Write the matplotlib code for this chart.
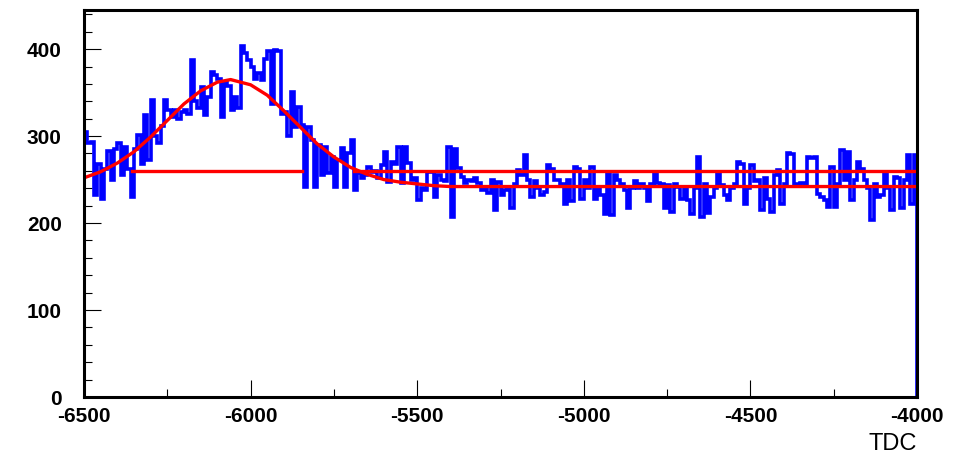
import numpy as np
import matplotlib
matplotlib.use('Agg')
import matplotlib.pyplot as plt
from matplotlib.ticker import MultipleLocator

plt.rcParams['font.family'] = ['Liberation Sans', 'DejaVu Sans']
plt.rcParams['axes.unicode_minus'] = False

# --- data ---
tdc_lo = -6500
tdc_hi = -4000
n_bins = 250

counts = [
    305, 292, 293, 232, 268, 228, 262, 283, 250, 285,
    292, 255, 288, 262, 230, 285, 301, 268, 324, 272,
    341, 300, 292, 312, 341, 330, 322, 330, 320, 328,
    330, 325, 387, 340, 332, 357, 324, 345, 374, 370,
    366, 322, 362, 358, 330, 345, 332, 404, 395, 388,
    380, 366, 372, 364, 389, 398, 337, 399, 398, 325,
    328, 300, 351, 310, 333, 313, 242, 311, 295, 242,
    290, 255, 287, 257, 276, 242, 272, 286, 242, 280,
    295, 238, 257, 252, 255, 265, 259, 260, 252, 267,
    282, 247, 270, 268, 287, 246, 288, 269, 250, 252,
    226, 240, 238, 259, 259, 230, 255, 250, 248, 287,
    207, 285, 263, 253, 246, 250, 248, 252, 246, 238,
    240, 234, 249, 215, 247, 232, 238, 240, 217, 245,
    261, 255, 278, 250, 230, 248, 240, 232, 236, 267,
    262, 249, 249, 245, 222, 249, 225, 264, 262, 228,
    250, 240, 264, 228, 240, 232, 211, 257, 209, 255,
    249, 245, 238, 217, 240, 248, 240, 245, 240, 225,
    245, 257, 246, 245, 217, 244, 213, 245, 242, 228,
    240, 226, 211, 240, 276, 207, 245, 212, 230, 240,
    257, 244, 232, 226, 240, 245, 270, 268, 222, 240,
    267, 248, 250, 215, 252, 228, 213, 255, 261, 222,
    245, 280, 279, 245, 244, 246, 243, 276, 275, 276,
    233, 230, 226, 219, 265, 219, 245, 284, 250, 282,
    226, 250, 270, 262, 250, 240, 204, 245, 230, 232,
    257, 240, 215, 253, 252, 217, 250, 278, 222, 278,
]

# fitted curve (gaussian on flat background)
fit_x = [-6500, -6450, -6400, -6350, -6300, -6250, -6200, -6150, -6100, -6060,
         -6000, -5950, -5900, -5850, -5800, -5750, -5700, -5650, -5600, -5550,
         -5500, -5450, -5400, -4000]
fit_y = [252, 259, 269, 282, 299, 318, 337, 352, 362, 365,
         359, 347, 329, 310, 291, 276, 264, 256, 250, 247,
         245, 243, 242, 242]

# flat reference level
flat_level = 260
flat_ranges = [(-6355, -5847), (-5690, -4000)]

# --- plot ---
fig = plt.figure(figsize=(9.67, 4.65), dpi=100)
ax = fig.add_axes([84 / 967, 68 / 465, 833 / 967, 387 / 465])

edges = np.linspace(tdc_lo, tdc_hi, n_bins + 1)
ax.stairs(counts, edges, baseline=0, color='#0000ff', lw=2.6, zorder=2)

for x0, x1 in flat_ranges:
    ax.plot([x0, x1], [flat_level, flat_level], color='#ff0000', lw=2.4, zorder=3)
ax.plot(fit_x, fit_y, color='#ff0000', lw=2.4, zorder=4)

ax.set_xlim(tdc_lo, tdc_hi)
ax.set_ylim(0, 445)

ax.xaxis.set_major_locator(MultipleLocator(500))
ax.xaxis.set_minor_locator(MultipleLocator(250))
ax.yaxis.set_major_locator(MultipleLocator(100))
ax.yaxis.set_minor_locator(MultipleLocator(20))

ax.tick_params(which='both', direction='in', top=False, right=False,
               width=0.8, color='black')
ax.tick_params(which='major', length=12.5)
ax.tick_params(which='minor', length=6)
ax.tick_params(axis='y', which='major', pad=16)
ax.tick_params(axis='x', which='major', pad=7)

for lab in ax.get_xticklabels() + ax.get_yticklabels():
    lab.set_fontsize(15)
    lab.set_fontweight('bold')

for sp in ax.spines.values():
    sp.set_linewidth(2.2)
    sp.set_color('black')
    sp.set_zorder(5)

fig.text(917 / 967, 10 / 465, 'TDC', ha='right', va='bottom', fontsize=17)

plt.savefig('out.png', dpi=100)
